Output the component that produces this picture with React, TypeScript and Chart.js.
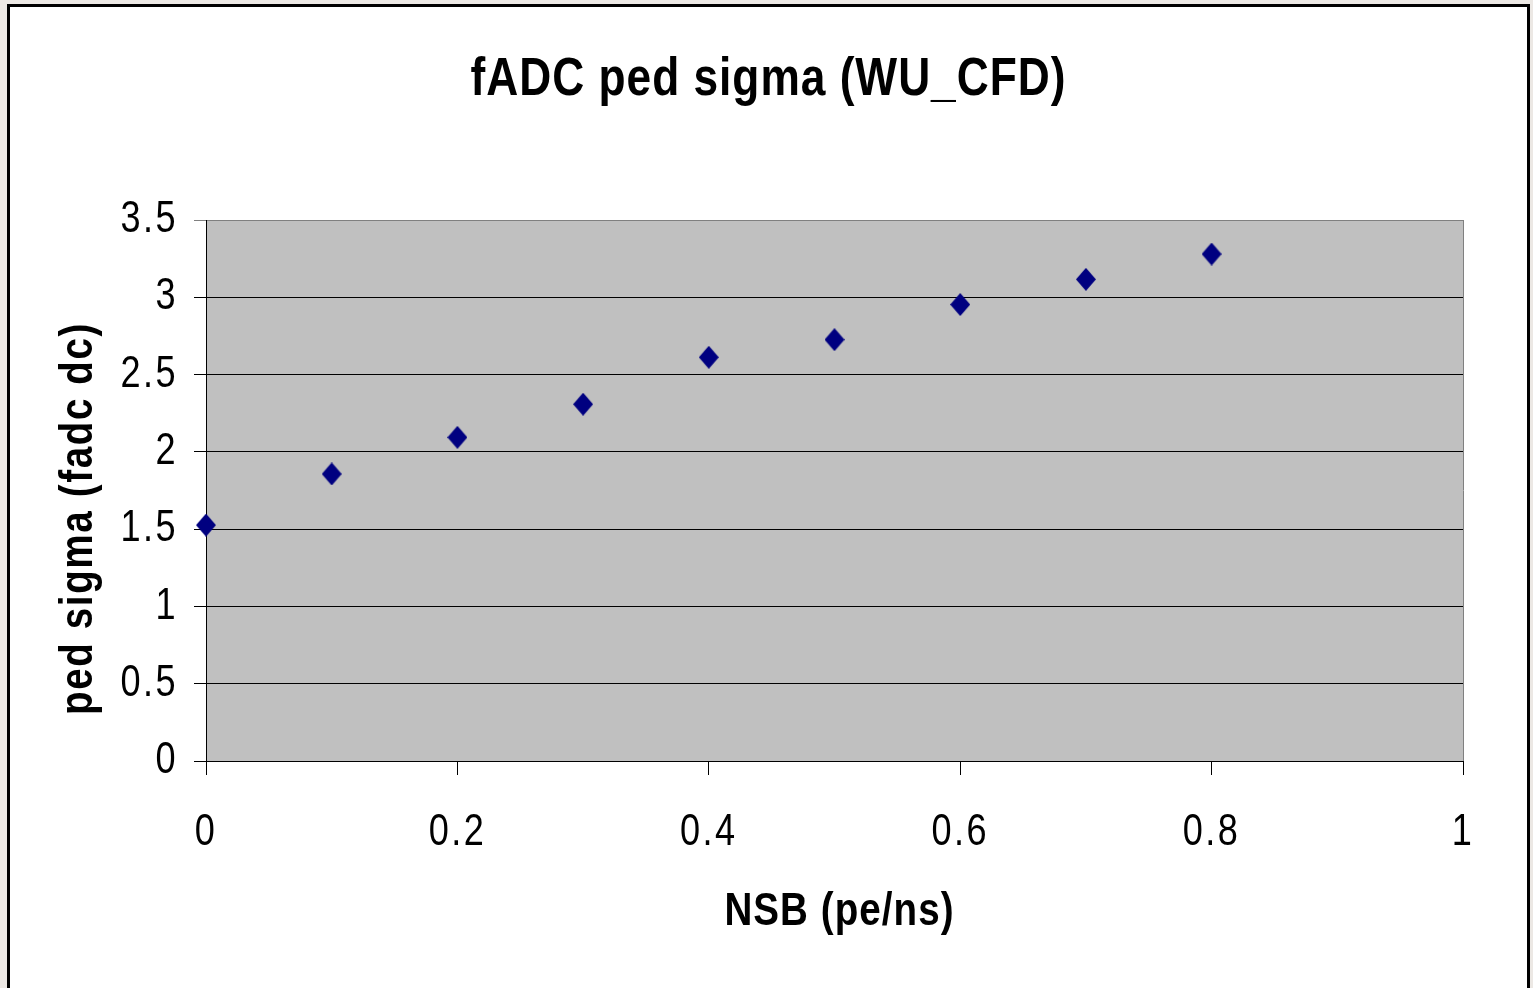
import { useEffect, useRef } from 'react';
import { Chart, registerables } from 'chart.js';

Chart.register(...registerables);

// ---- data ----
const nsb = [0, 0.1, 0.2, 0.3, 0.4, 0.5, 0.6, 0.7, 0.8];
const pedSigma = [1.526, 1.857, 2.094, 2.308, 2.612, 2.726, 2.953, 3.116, 3.28];
const xTicks = [0, 0.2, 0.4, 0.6, 0.8, 1];
const xTickLabels = ['0', '0.2', '0.4', '0.6', '0.8', '1'];
const yTicks = [0, 0.5, 1, 1.5, 2, 2.5, 3, 3.5];
const yTickLabels = ['0', '0.5', '1', '1.5', '2', '2.5', '3', '3.5'];
const titleText = 'fADC ped sigma (WU_CFD)';
const xTitleText = 'NSB (pe/ns)';
const yTitleText = 'ped sigma (fadc dc)';

// Arial-metric font, condensed horizontally to look like Arial Narrow
const FONT = '"Liberation Sans", Arial, sans-serif';
const NARROW = 0.82;
const TICK_SPACING = '3px';
const TITLE_SPACING = '1.2px';
const X_TITLE_SPACING = '1.3px';
const Y_TITLE_SPACING = '2px';

function makeDiamond(w: number, h: number, color: string) {
  const c = document.createElement('canvas');
  c.width = w;
  c.height = h;
  const g = c.getContext('2d')!;
  g.fillStyle = color;
  g.beginPath();
  g.moveTo(w / 2, 0);
  g.lineTo(w, h / 2);
  g.lineTo(w / 2, h);
  g.lineTo(0, h / 2);
  g.closePath();
  g.fill();
  return c;
}

const plotBg = {
  id: 'plotBg',
  beforeDraw(chart: any) {
    const { ctx, chartArea: a } = chart;
    ctx.save();
    ctx.fillStyle = '#c0c0c0';
    ctx.fillRect(a.left, a.top, a.right - a.left, a.bottom - a.top);
    ctx.strokeStyle = '#808080';
    ctx.lineWidth = 1;
    ctx.beginPath();
    ctx.moveTo(Math.round(a.right) + 0.5, a.top);
    ctx.lineTo(Math.round(a.right) + 0.5, a.bottom);
    ctx.stroke();
    ctx.restore();
  },
};

const spacing = {
  id: 'spacing',
  beforeLayout(chart: any) {
    chart.ctx.letterSpacing = TICK_SPACING;
  },
  beforeDraw(chart: any) {
    chart.ctx.letterSpacing = TICK_SPACING;
  },
};

function wrapText(obj: any, name: string, sp: string, dx = 0, dy = 0) {
  if (!obj || typeof obj[name] !== 'function') return;
  const orig = obj[name];
  obj[name] = function (...args: any[]) {
    const ctx = this.ctx;
    ctx.save();
    ctx.letterSpacing = sp;
    ctx.translate(dx, dy);
    try {
      return orig.apply(this, args);
    } finally {
      ctx.restore();
    }
  };
}

function narrowText(ctx: any) {
  const origFill = ctx.fillText.bind(ctx);
  ctx.fillText = function (text: string, x: number, y: number, maxWidth?: number) {
    ctx.save();
    ctx.translate(x, y);
    ctx.scale(NARROW, 1);
    if (maxWidth === undefined) origFill(text, 0, 0);
    else origFill(text, 0, 0, maxWidth / NARROW);
    ctx.restore();
  };
}

export default function App() {
  const ref = useRef<HTMLCanvasElement | null>(null);

  useEffect(() => {
    if (!ref.current) return;
    const ctx2d = ref.current.getContext('2d');
    narrowText(ctx2d);
    const diamond = makeDiamond(20, 23, '#000080');
    const chart = new Chart(ref.current, {
      type: 'scatter',
      data: {
        datasets: [
          {
            label: 'ped sigma',
            data: nsb.map((x, i) => ({ x, y: pedSigma[i] })),
            pointStyle: diamond as any,
            pointRadius: 10,
            pointHoverRadius: 10,
            clip: false as any,
          },
        ],
      },
      plugins: [plotBg, spacing],
      options: {
        animation: false,
        responsive: false,
        devicePixelRatio: 1,
        events: [],
        layout: { padding: { left: 0, right: 0, top: 0, bottom: 0 } },
        plugins: {
          legend: { display: false },
          tooltip: { enabled: false },
          title: {
            display: true,
            text: titleText,
            color: '#000',
            font: { family: FONT, size: 54, weight: 'bold', lineHeight: 1 },
            padding: { top: 53.5, bottom: 112.5 },
          },
        },
        scales: {
          x: {
            type: 'linear',
            min: 0,
            max: 1,
            afterBuildTicks: (s: any) => {
              s.ticks = xTicks.map((v) => ({ value: v }));
            },
            afterFit: (s: any) => {
              s.height = 227;
            },
            grid: {
              drawOnChartArea: false,
              drawTicks: true,
              tickLength: 14,
              color: '#000',
              lineWidth: 1,
            },
            border: { display: true, color: '#000', width: 1 },
            ticks: {
              color: '#000',
              font: { family: FONT, size: 44, lineHeight: 1 },
              padding: 36,
              maxRotation: 0,
              autoSkip: false,
              callback: (_v: any, i: number) => xTickLabels[i],
            },
            title: {
              display: true,
              text: xTitleText,
              color: '#000',
              font: { family: FONT, size: 47, weight: 'bold', lineHeight: 1 },
              padding: { top: 0, bottom: 52.5 },
            },
          },
          y: {
            type: 'linear',
            min: 0,
            max: 3.5,
            afterBuildTicks: (s: any) => {
              s.ticks = yTicks.map((v) => ({ value: v }));
            },
            afterFit: (s: any) => {
              s.width = 206;
            },
            grid: {
              color: (c: any) => (c.tick && c.tick.value === 3.5 ? '#808080' : '#000'),
              lineWidth: 1,
              drawTicks: true,
              tickLength: 12,
            },
            border: { display: true, color: '#000', width: 1 },
            ticks: {
              color: '#000',
              font: { family: FONT, size: 44, lineHeight: 1 },
              padding: 16,
              autoSkip: false,
              callback: (_v: any, i: number) => yTickLabels[i],
            },
            title: {
              display: true,
              text: yTitleText,
              color: '#000',
              font: { family: FONT, size: 47, weight: 'bold', lineHeight: 1 },
              padding: { top: 55.5, bottom: 0 },
            },
          },
          // empty right-hand margin box, keeps the title centred on the full width
          yRight: {
            type: 'linear',
            position: 'right',
            display: true,
            afterFit: (s: any) => {
              s.width = 70;
            },
            grid: { display: false, drawTicks: false },
            border: { display: false },
            ticks: { display: false },
            title: { display: false },
          },
        },
      } as any,
    });

    wrapText((chart as any).titleBlock, 'draw', TITLE_SPACING, 2, 0);
    wrapText(chart.scales.x, 'drawTitle', X_TITLE_SPACING, 5, 0);
    wrapText(chart.scales.y, 'drawTitle', Y_TITLE_SPACING, 0, 28);
    chart.draw();

    return () => chart.destroy();
  }, []);

  return (
    <div
      style={{
        position: 'absolute',
        left: 0,
        top: 0,
        width: 1533,
        height: 988,
        overflow: 'hidden',
        background: '#ece8e4',
      }}
    >
      <div
        style={{
          position: 'absolute',
          left: 7,
          top: 4,
          width: 1523,
          height: 1100,
          border: '3px solid #000',
          boxSizing: 'border-box',
          background: '#fff',
        }}
      />
      <canvas
        ref={ref}
        width={1533}
        height={988}
        style={{ position: 'absolute', left: 0, top: 0, width: 1533, height: 988 }}
      />
    </div>
  );
}
